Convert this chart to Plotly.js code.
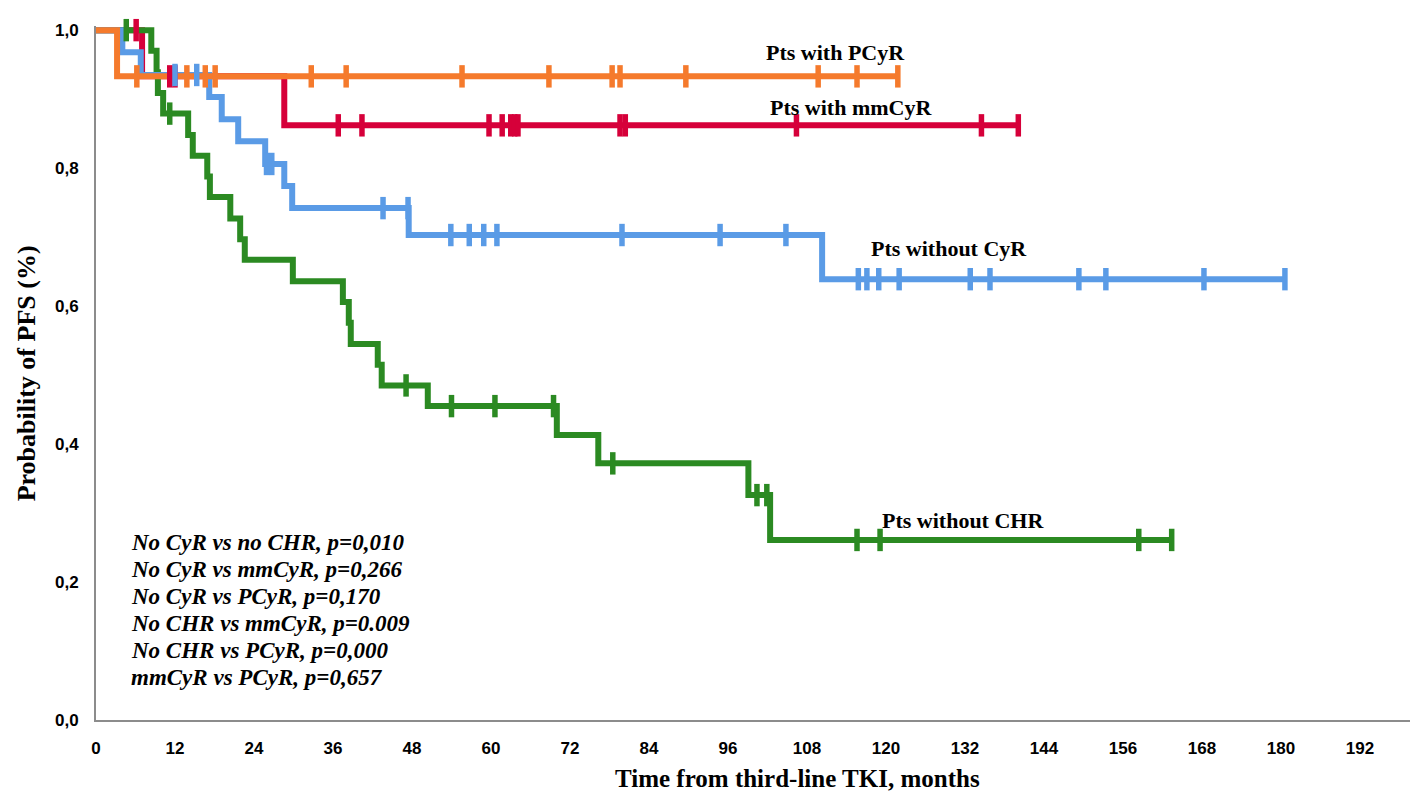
<!DOCTYPE html>
<html>
<head>
<meta charset="utf-8">
<script src="https://cdn.plot.ly/plotly-3.0.1.min.js"></script>
<style>
  html, body { margin: 0; padding: 0; background: #fff; }
  #chart { width: 1425px; height: 805px; }
</style>
</head>
<body>
<div id="chart"></div>
<script>
// Kaplan-Meier step data (months, probability)
const pcyrTimes = [0, 3.2];
const pcyrSurv = [1, 0.933];
const pcyrCensor = [6.2, 13.8, 16.6, 18.1, 32.7, 38.0, 55.6, 68.8, 78.4, 79.6, 89.6, 109.7, 115.6, 121.8];

const mmcyrTimes = [0, 7.0, 28.6];
const mmcyrSurv = [1, 0.933, 0.862];
const mmcyrCensor = [6.1, 11.2, 12.0, 36.8, 40.4, 59.7, 61.7, 63.0, 63.6, 64.1, 79.6, 80.4, 106.4, 134.5, 140.1];

const nocyrTimes = [0, 4.0, 6.8, 17.2, 19.1, 21.6, 25.7, 28.6, 29.8, 47.5, 110.3];
const nocyrSurv = [1, 0.968, 0.935, 0.903, 0.871, 0.839, 0.806, 0.774, 0.742, 0.703, 0.639];
const nocyrCensor = [12.0, 15.3, 25.9, 26.7, 43.6, 47.4, 53.9, 56.7, 58.9, 60.9, 79.9, 94.8, 104.8,
  115.8, 117.1, 118.9, 122.0, 132.8, 135.8, 149.3, 153.4, 168.3, 180.6];

const nochrTimes = [0, 8.4, 9.2, 9.4, 10.2, 14.0, 14.7, 16.9, 17.3, 20.4, 21.9, 22.6, 29.9,
  37.5, 38.4, 38.7, 42.8, 43.4, 50.4, 70.0, 76.3, 99.1, 102.4];
const nochrSurv = [1, 0.970, 0.939, 0.909, 0.879, 0.848, 0.818, 0.788, 0.758, 0.727, 0.697, 0.667, 0.636,
  0.606, 0.576, 0.545, 0.515, 0.485, 0.455, 0.413, 0.372, 0.326, 0.261];
const nochrCensor = [4.6, 11.2, 47.1, 54.0, 60.6, 69.5, 78.5, 100.4, 101.9, 115.6, 119.1, 158.4, 163.4];

const xTicks = [0, 12, 24, 36, 48, 60, 72, 84, 96, 108, 120, 132, 144, 156, 168, 180, 192];
const yTicks = [0, 0.2, 0.4, 0.6, 0.8, 1.0];
const yTickText = ["0,0", "0,2", "0,4", "0,6", "0,8", "1,0"];

const curveLabels = ["Pts with PCyR", "Pts with mmCyR", "Pts without CyR", "Pts without CHR"];
const pValueLines = [
  "No CyR vs no CHR, p=0,010",
  "No CyR vs mmCyR, p=0,266",
  "No CyR vs PCyR, p=0,170",
  "No CHR vs mmCyR, p=0.009",
  "No CHR vs PCyR, p=0,000",
  "mmCyR vs PCyR, p=0,657",
];
const xTitle = "Time from third-line TKI, months";
const yTitle = "Probability of PFS (%)";

const SERIF = "'Liberation Serif', 'Times New Roman', serif";
const SANS = "'Liberation Sans', Arial, sans-serif";

const groups = [
  { times: mmcyrTimes, surv: mmcyrSurv, censor: mmcyrCensor, color: "#d6003a" },
  { times: nochrTimes, surv: nochrSurv, censor: nochrCensor, color: "#2b8a22" },
  { times: nocyrTimes, surv: nocyrSurv, censor: nocyrCensor, color: "#5a9be6" },
  { times: pcyrTimes, surv: pcyrSurv, censor: pcyrCensor, color: "#f57a2c" },
];

function survAt(times, surv, t) {
  let s = surv[0];
  times.forEach((ti, i) => {
    if (ti <= t) s = surv[i];
  });
  return s;
}

function stepTrace(g) {
  const end = Math.max(...g.censor, g.times[g.times.length - 1]);
  return {
    type: "scatter",
    mode: "lines",
    x: g.times.concat([end]),
    y: g.surv.concat([g.surv[g.surv.length - 1]]),
    line: { color: g.color, width: 6, shape: "hv" },
    hoverinfo: "skip",
    showlegend: false,
  };
}

function censorTrace(g) {
  return {
    type: "scatter",
    mode: "markers",
    x: g.censor,
    y: g.censor.map((t) => survAt(g.times, g.surv, t)),
    marker: { symbol: "line-ns-open", size: 16, color: g.color, line: { color: g.color, width: 5.5 } },
    hoverinfo: "skip",
    showlegend: false,
    cliponaxis: false,
  };
}

const traces = groups.map(stepTrace).concat(groups.map(censorTrace));

const labelPos = [
  { x: 112.3, y: 0.968 },
  { x: 114.7, y: 0.888 },
  { x: 129.6, y: 0.684 },
  { x: 131.7, y: 0.289 },
];

const annotations = curveLabels.map((text, i) => ({
  x: labelPos[i].x,
  y: labelPos[i].y,
  xref: "x",
  yref: "y",
  text: `<b>${text}</b>`,
  showarrow: false,
  font: { family: SERIF, size: 22, color: "#000" },
}));

pValueLines.forEach((text, i) => {
  annotations.push({
    x: 5.0,
    y: 0.257 - i * 0.0392,
    xref: "x",
    yref: "y",
    xanchor: "left",
    text: `<b><i>${text}</i></b>`,
    showarrow: false,
    font: { family: SERIF, size: 23, color: "#000" },
  });
});

annotations.push({
  x: 0.5335,
  y: -0.084,
  xref: "paper",
  yref: "paper",
  yanchor: "middle",
  text: `<b>${xTitle}</b>`,
  showarrow: false,
  font: { family: SERIF, size: 25, color: "#000" },
});

annotations.push({
  x: -0.053,
  y: 0.5,
  xref: "paper",
  yref: "paper",
  xanchor: "center",
  yanchor: "middle",
  textangle: -90,
  text: `<b>${yTitle}</b>`,
  showarrow: false,
  font: { family: SERIF, size: 26, color: "#000" },
});

const layout = {
  width: 1425,
  height: 805,
  margin: { l: 96, r: 15, t: 26, b: 85 },
  paper_bgcolor: "#ffffff",
  plot_bgcolor: "#ffffff",
  showlegend: false,
  hovermode: false,
  xaxis: {
    range: [0, 199.6],
    tickvals: xTicks,
    ticktext: xTicks.map(String),
    showgrid: false,
    zeroline: false,
    showline: true,
    linecolor: "#8c8c8c",
    linewidth: 2,
    ticks: "",
    ticklabelstandoff: 12,
    tickfont: { family: SANS, size: 17, color: "#000", weight: "bold" },
  },
  yaxis: {
    range: [0, 1.006],
    tickvals: yTicks,
    ticktext: yTickText,
    showgrid: false,
    zeroline: false,
    showline: true,
    linecolor: "#8c8c8c",
    linewidth: 2,
    ticks: "",
    ticklabelstandoff: 12,
    tickfont: { family: SANS, size: 17, color: "#000", weight: "bold" },
  },
  annotations,
};

Plotly.newPlot("chart", traces, layout, { displayModeBar: false, staticPlot: true });
</script>
</body>
</html>
